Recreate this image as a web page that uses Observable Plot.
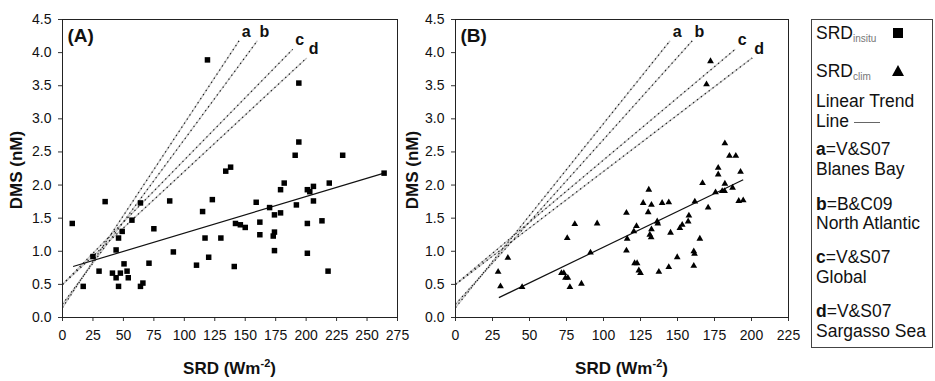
<!DOCTYPE html>
<html>
<head>
<meta charset="utf-8">
<script src="https://cdn.jsdelivr.net/npm/d3@7"></script>
<script src="https://cdn.jsdelivr.net/npm/@observablehq/plot@0.6"></script>
<style>
  body { margin: 0; background: #fff; font-family: "Liberation Sans", Arial, sans-serif; }
  #wrap { position: relative; width: 935px; height: 381px; overflow: hidden; background: #fff; }
  .panel { position: absolute; top: 0; }
  .panel svg { background: none; overflow: visible; }
  #legend { position: absolute; left: 811px; top: 19px; width: 122px; height: 329px; border: 1px solid #444; box-sizing: border-box; }
  .li { position: absolute; left: 4px; font-size: 17.5px; line-height: 20px; color: #111; white-space: nowrap; }
  .li sub { font-size: 10px; color: #777; vertical-align: -3px; }
  .li b { font-weight: bold; }
  .sq { position: absolute; left: 77px; top: 5px; width: 10px; height: 10px; background: #000; }
  .tri { position: absolute; left: 76px; top: 4px; width: 0; height: 0; border-left: 6px solid transparent; border-right: 6px solid transparent; border-bottom: 11px solid #000; }
  .tl { display: inline-block; width: 26px; border-top: 1px solid #666; vertical-align: middle; margin-left: 5px; }
</style>
</head>
<body>
<div id="wrap">
  <div id="pa" class="panel" style="left:0px"></div>
  <div id="pb" class="panel" style="left:395px"></div>
  <div id="legend"></div>
</div>
<script>
// ---- Panel A: SRD in situ (squares) ----
const srdInsitu = [8,17,25,30,35,41,44,44,46,46,47.5,49,50.5,53,54,57,64,64,66,71,75,88,91,110,115,117,119,120,123,130,134,138,141,142,146,150,159,162,162,170,173,174,174,174,179,179,182,191,192,194,194,201,201,201,203,206,206,213,219,218,230,264];
const dmsInsitu = [1.42,0.47,0.92,0.70,1.75,0.67,0.60,1.02,1.20,0.47,0.67,1.30,0.81,0.70,0.60,1.47,1.73,0.47,0.52,0.82,1.34,1.76,0.99,0.79,1.60,1.20,3.89,0.91,1.78,1.20,2.21,2.27,0.77,1.42,1.40,1.36,1.74,1.44,1.25,1.66,1.23,1.29,1.55,1.01,1.58,1.93,2.03,2.45,1.70,3.54,2.65,1.93,1.42,0.97,1.90,1.98,1.76,1.46,2.03,0.70,2.45,2.18];

// ---- Panel B: SRD climatology (triangles) ----
const srdClim = [28.8,30.4,35.4,45,71.6,73.2,74.3,75.9,75.5,77.3,80.6,85.1,91.2,95.7,115.5,115.5,116,120.5,121,122.3,122.7,123.9,125,126.8,130.2,130.6,131.3,132.2,132.4,132.4,136.3,136.7,137.4,139.6,144.1,144.1,145.3,149.8,151.6,153.2,157.2,157.7,161,161.5,161,161.7,165.1,166.9,169.6,170.7,172.3,175.7,177.5,177.5,180.2,181.8,182,182,185.1,187.2,189.4,191.4,192.6,194.4];
const dmsClim = [0.69,0.47,0.90,0.46,0.67,0.67,0.60,0.60,1.20,0.46,1.41,0.51,0.98,1.42,1.58,1.01,1.19,1.30,0.82,1.38,0.82,0.71,0.67,1.73,1.59,1.93,1.25,1.21,1.33,1.70,1.45,1.42,0.69,1.73,1.74,0.76,1.28,0.91,1.35,1.40,1.45,1.54,1.00,0.96,0.78,1.75,1.19,2.03,3.52,1.66,3.87,1.89,2.26,2.16,1.91,1.91,2.63,2.02,2.44,1.96,2.44,1.76,2.20,1.77];

// ---- Linear trend lines (start/end) ----
const trendAx = [8.7, 264];
const trendAy = [0.77, 2.18];
const trendBx = [29.3, 194.4];
const trendBy = [0.30, 2.08];

// ---- Literature relationships a–d (start/end) ----
const refLabels = ["a", "b", "c", "d"];
const refX0 = [0, 0, 0, 0];
const refY0 = [0.15, 0.20, 0.50, 0.50];
const refX1 = [145, 160, 189, 200.5];
const refY1 = [4.18, 4.18, 4.05, 3.92];

// ---- Axis ticks ----
const yTicks = [0, 0.5, 1, 1.5, 2, 2.5, 3, 3.5, 4, 4.5];
const xTicksA = [0, 25, 50, 75, 100, 125, 150, 175, 200, 225, 250, 275];
const xTicksB = [0, 25, 50, 75, 100, 125, 150, 175, 200, 225];

const refData = refLabels.map((k, i) => ({k, x0: refX0[i], y0: refY0[i], x1: refX1[i], y1: refY1[i]}));

function panel({xs, ys, tx, ty, xTicks, symbol, r, marginLeft, marginRight, tag}) {
  const pts = xs.map((x, i) => ({x, y: ys[i]}));
  const trend = [{x1: tx[0], y1: ty[0], x2: tx[1], y2: ty[1]}];
  const xmax = xTicks[xTicks.length - 1];
  return Plot.plot({
    width: 400, height: 381,
    marginLeft, marginRight, marginTop: 19, marginBottom: 64,
    x: {domain: [0, xmax]},
    y: {domain: [0, 4.5]},
    style: {fontFamily: "'Liberation Sans', Arial, sans-serif", fontSize: "14px", color: "#111", background: "none"},
    marks: [
      Plot.axisX({ticks: xTicks, tickSize: 4, tickPadding: 9, label: null, tickFormat: d => String(d), stroke: "#333"}),
      Plot.axisY({ticks: yTicks, tickSize: 4, tickPadding: 7, label: null, tickFormat: d3.format(".1f"), stroke: "#333"}),
      Plot.link(refData, {x1: "x0", y1: "y0", x2: "x1", y2: "y1", stroke: "#c8c8c8", strokeWidth: 1.4}),
      Plot.link(refData, {x1: "x0", y1: "y0", x2: "x1", y2: "y1", stroke: "#1a1a1a", strokeWidth: 1.2, strokeDasharray: "1.3,3.6"}),
      Plot.text(refData, {x: "x1", y: "y1", text: "k", dx: 7, dy: -9, fontWeight: "bold", fontSize: 16, fill: "#111"}),
      Plot.link(trend, {x1: "x1", y1: "y1", x2: "x2", y2: "y2", stroke: "#111", strokeWidth: 1.2}),
      Plot.dot(pts, {x: "x", y: "y", symbol, r, fill: "#000", stroke: "none"}),
      Plot.frame({stroke: "#222"}),
      Plot.text([tag], {frameAnchor: "top-left", text: d => d, dx: 5, dy: 9, textAnchor: "start", lineAnchor: "top", fontWeight: "bold", fontSize: 19, fill: "#111"})
    ]
  });
}

function addLabels(svg, cx, ylx) {
  const s = d3.select(svg);
  s.append("text")
    .attr("transform", `translate(${ylx},170) rotate(-90)`)
    .attr("text-anchor", "middle").attr("dominant-baseline", "central")
    .attr("font-family", "'Liberation Sans', Arial, sans-serif")
    .attr("font-size", 17).attr("font-weight", "bold").attr("fill", "#111")
    .text("DMS (nM)");
  const t = s.append("text")
    .attr("x", cx).attr("y", 374).attr("text-anchor", "middle")
    .attr("font-family", "'Liberation Sans', Arial, sans-serif")
    .attr("font-size", 17).attr("font-weight", "bold").attr("fill", "#111");
  t.append("tspan").text("SRD (Wm");
  t.append("tspan").attr("dy", -7).attr("font-size", 11).text("-2");
  t.append("tspan").attr("dy", 7).text(")");
}

const svgA = panel({xs: srdInsitu, ys: dmsInsitu, tx: trendAx, ty: trendAy, xTicks: xTicksA, symbol: "square", r: 3.1, marginLeft: 62, marginRight: 3, tag: "(A)"});
addLabels(svgA, 229.5, 16);
document.getElementById("pa").appendChild(svgA);

const svgB = panel({xs: srdClim, ys: dmsClim, tx: trendBx, ty: trendBy, xTicks: xTicksB, symbol: "triangle", r: 2.5, marginLeft: 60, marginRight: 7, tag: "(B)"});
addLabels(svgB, 226.5, 17);
document.getElementById("pb").appendChild(svgB);

// ---- Legend ----
const legendRows = [
  {c: 33, html: 'SRD<sub>insitu</sub><span class="sq"></span>'},
  {c: 71, html: 'SRD<sub>clim</sub><span class="tri"></span>'},
  {c: 101, html: 'Linear Trend'},
  {c: 121, html: 'Line<span class="tl"></span>'},
  {c: 149, html: '<b>a</b>=V&amp;S07'},
  {c: 169, html: 'Blanes Bay'},
  {c: 204, html: '<b>b</b>=B&amp;C09'},
  {c: 223, html: 'North Atlantic'},
  {c: 257, html: '<b>c</b>=V&amp;S07'},
  {c: 277, html: 'Global'},
  {c: 311, html: '<b>d</b>=V&amp;S07'},
  {c: 331, html: 'Sargasso Sea'}
];
const lg = document.getElementById("legend");
legendRows.forEach(row => {
  const d = document.createElement("div");
  d.className = "li";
  d.style.top = (row.c - 20 - 10) + "px";
  d.innerHTML = row.html;
  lg.appendChild(d);
});
</script>
</body>
</html>
